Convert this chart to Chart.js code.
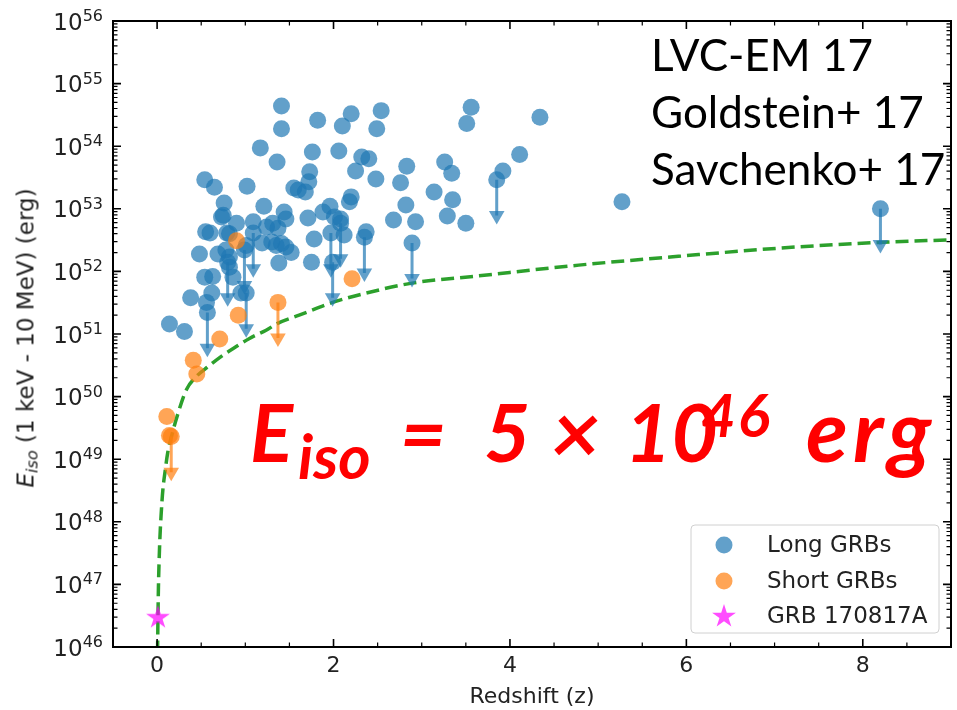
<!DOCTYPE html>
<html>
<head>
<meta charset="utf-8">
<script src="https://cdn.jsdelivr.net/npm/chart.js@4.4.0/dist/chart.umd.min.js"></script>
<style>
  html, body { margin: 0; padding: 0; background: #fff; }
  #wrap { position: relative; width: 957px; height: 710px; overflow: hidden; }
  #chart { position: absolute; left: 0; top: 0; }
  .ylabel {
    position: absolute; left: 27px; top: 338px;
    transform: translate(-50%, -50%) rotate(-90deg);
    font: 23px "DejaVu Sans"; color: #222; white-space: nowrap;
  }
  .ylabel sub { font-size: 70%; vertical-align: -0.25em; }
  .refs { position: absolute; left: 651px; top: 26px; font: 44px Lato; line-height: 57px; color: #000; white-space: nowrap; }
  .formula span { position: absolute; font-family: Lato; font-style: italic; font-weight: bold; color: #f00; line-height: 1; white-space: nowrap; }
</style>
</head>
<body>
<div id="wrap">
  <canvas id="chart" width="957" height="710"></canvas>
  <div class="ylabel"><i>E</i><sub><i>iso</i></sub> (1 keV - 10 MeV) (erg)</div>
  <div class="refs">LVC-EM 17<br>Goldstein+ 17<br>Savchenko+ 17</div>
  <div class="formula">
    <span style="left:250px; top:391px; font-size:80px;">E</span>
    <span style="left:298px; top:424px; font-size:62px;">iso</span>
    <span style="left:400px; top:391px; font-size:80px;">=</span>
    <span style="left:484px; top:391px; font-size:80px;">5</span>
    <span style="left:551px; top:388px; font-size:86px;">×</span>
    <span style="left:625px; top:391px; font-size:80px;">10</span>
    <span style="left:701px; top:384px; font-size:60px; letter-spacing:2px;">46</span>
    <span style="left:806px; top:386px; font-size:86px; letter-spacing:5px;">erg</span>
  </div>
</div>
<script>
// values: redshift z and isotropic energy (erg)
const longZ = [
  1.41, 1.41, 1.82, 2.20, 2.10, 2.54, 2.49, 3.56, 3.51, 4.34,
  1.17, 1.36, 1.76, 2.06, 2.32, 2.40, 2.25, 2.48, 2.83, 2.76,
  3.26, 3.34, 4.11, 3.92, 3.14, 3.35, 3.29, 3.50, 2.82, 2.93,
  2.68, 5.27, 0.54, 0.65, 1.02, 1.73, 1.72, 1.55, 1.60, 1.68,
  0.76, 1.21, 1.44, 1.46, 2.20, 2.18, 1.96, 1.88, 2.01, 2.08,
  1.71, 0.73, 0.90, 1.09, 1.24, 1.31, 1.37, 0.55, 0.60, 0.82,
  1.78, 2.12, 2.37, 0.69, 0.48, 0.82, 0.78, 1.01, 1.19, 1.35,
  1.46, 1.52, 1.38, 1.75, 0.54, 0.82, 0.86, 0.38, 0.56, 0.62,
  0.95, 0.14, 0.31, 0.75, 0.79, 1.30, 1.41, 0.63
];
const longE = [
  4.4e54, 1.9e54, 2.6e54, 3.3e54, 2.1e54, 3.7e54, 1.9e54, 4.2e54, 2.3e54, 2.9e54,
  9.4e53, 5.6e53, 8.1e53, 8.4e53, 6.7e53, 6.3e53, 4.0e53, 3.0e53, 4.8e53, 2.6e53,
  5.6e53, 3.7e53, 7.4e53, 4.0e53, 1.85e53, 1.4e53, 7.7e52, 5.9e52, 1.15e53, 6.2e52,
  6.6e52, 1.3e53, 2.9e53, 2.2e53, 2.3e53, 3.9e53, 2.7e53, 2.15e53, 2.0e53, 1.85e53,
  1.24e53, 1.1e53, 8.9e52, 6.9e52, 1.55e53, 1.3e53, 1.1e53, 8.9e52, 7.4e52, 6.9e52,
  7.1e52, 7.4e52, 5.9e52, 6.2e52, 5.1e52, 5.9e52, 4.9e52, 4.3e52, 4.1e52, 4.0e52,
  3.3e52, 3.8e52, 4.3e52, 1.9e52, 1.9e52, 1.7e52, 2.2e52, 2.6e52, 2.85e52, 2.6e52,
  2.45e52, 2.0e52, 1.36e52, 1.4e52, 8.1e51, 1.17e52, 8.1e51, 3.8e51, 3.2e51, 4.5e51,
  4.5e51, 1.45e51, 1.1e51, 7.9e52, 4.1e52, 2.95e52, 2.8e52, 8.3e51
];
// long GRBs that are upper limits (drawn with a down arrow)
const longLimZ = [0.57, 1.01, 0.80, 0.99, 1.09, 1.97, 1.99, 2.08, 2.35, 2.89, 3.85, 8.20];
const longLimE = [2.2e51, 4.5e51, 1.4e52, 2.2e52, 4.1e52, 4.1e52, 1.4e52, 5.9e52, 3.5e52, 2.85e52, 2.9e53, 1.0e53];

const shortZ = [0.90, 0.92, 0.71, 0.41, 0.45, 2.21, 0.11, 0.14];
const shortE = [3.1e52, 2.0e51, 8.3e50, 3.8e50, 2.3e50, 7.6e51, 4.8e49, 2.4e49];
const shortLimZ = [1.37, 0.16];
const shortLimE = [3.2e51, 2.3e49];

const grbZ = [0.0098];
const grbE = [3.0e46];

// dashed threshold curve
const curveZ = [
  0.005, 0.0098, 0.015, 0.022, 0.032, 0.045, 0.065, 0.09, 0.12, 0.163,
  0.237, 0.332, 0.445, 0.576, 0.728, 0.897, 1.047, 1.236, 1.367, 1.61,
  1.99, 2.37, 2.89, 3.65, 4.78, 5.91, 7.03, 8.17, 9.0
];
const curveE = [
  7.9e45, 3.0e46, 8.9e46, 2.2e47, 5.6e47, 1.26e48, 3.2e48, 6.3e48, 1.26e49, 2.3e49,
  5.4e49, 1.29e50, 2.1e50, 3.0e50, 4.4e50, 6.3e50, 8.5e50, 1.15e51, 1.48e51, 2.0e51,
  3.2e51, 4.5e51, 6.5e51, 8.5e51, 1.26e52, 1.74e52, 2.34e52, 2.9e52, 3.2e52
];

const xLabels = [0, 2, 4, 6, 8];
const yExps = [46, 47, 48, 49, 50, 51, 52, 53, 54, 55, 56];
const legendLabels = ['Long GRBs', 'Short GRBs', 'GRB 170817A'];

const BLUE = 'rgba(31, 119, 180, 0.7)';
const ORANGE = 'rgba(255, 127, 14, 0.7)';
const MAGENTA = 'rgba(255, 0, 255, 0.7)';
const GREEN = '#2ca02c';
const FONT = '"DejaVu Sans"';
const LIMIT_DROP = 0.27; // where the upper-limit arrowhead sits, as a fraction of the value

const pts = (zs, es) => zs.map((z, i) => ({ x: z, y: es[i] }));
const shafts = (zs, es) => zs.flatMap((z, i) => [
  { x: z, y: es[i] }, { x: z, y: es[i] * LIMIT_DROP }, { x: z, y: null },
]);
const heads = (zs, es) => zs.map((z, i) => ({ x: z, y: es[i] * LIMIT_DROP }));

// minor + major tick positions for the log axis
const yTickValues = [];
yExps.forEach((e, i) => {
  if (i === yExps.length - 1) { yTickValues.push(10 ** e); return; }
  for (let m = 1; m <= 9; m++) yTickValues.push(m * 10 ** e);
});

function starPath(ctx, cx, cy, r) {
  ctx.beginPath();
  for (let k = 0; k < 10; k++) {
    const rad = k % 2 === 0 ? r : r * 0.382;
    const ang = -Math.PI / 2 + k * Math.PI / 5;
    ctx.lineTo(cx + rad * Math.cos(ang), cy + rad * Math.sin(ang));
  }
  ctx.closePath();
}

const starImg = document.createElement('canvas');
starImg.width = 28; starImg.height = 28;
(() => {
  const c = starImg.getContext('2d');
  starPath(c, 14, 14.5, 12.5);
  c.fillStyle = MAGENTA;
  c.fill();
})();

const framePlugin = {
  id: 'frame',
  afterDraw(chart) {
    const { ctx, chartArea: a, scales: { x, y } } = chart;
    ctx.save();
    ctx.strokeStyle = '#000';

    // inward ticks on all four sides
    for (const t of x.ticks) {
      const px = x.getPixelForValue(t.value);
      const major = xLabels.includes(t.value);
      const len = major ? 8 : 4.5;
      ctx.lineWidth = major ? 1.6 : 1.2;
      ctx.beginPath();
      ctx.moveTo(px, a.bottom); ctx.lineTo(px, a.bottom - len);
      ctx.moveTo(px, a.top); ctx.lineTo(px, a.top + len);
      ctx.stroke();
    }
    for (const t of y.ticks) {
      const py = y.getPixelForValue(t.value);
      const lg = Math.log10(t.value);
      const major = Math.abs(lg - Math.round(lg)) < 1e-9;
      const len = major ? 8 : 4.5;
      ctx.lineWidth = major ? 1.6 : 1.2;
      ctx.beginPath();
      ctx.moveTo(a.left, py); ctx.lineTo(a.left + len, py);
      ctx.moveTo(a.right, py); ctx.lineTo(a.right - len, py);
      ctx.stroke();
    }

    ctx.lineWidth = 2;
    ctx.strokeRect(a.left, a.top, a.right - a.left, a.bottom - a.top);

    // y tick labels as 10^n
    ctx.fillStyle = '#222';
    ctx.textBaseline = 'alphabetic';
    ctx.textAlign = 'left';
    for (const e of yExps) {
      const py = y.getPixelForValue(10 ** e);
      ctx.font = `16px ${FONT}`;
      const exp = String(e);
      const w2 = ctx.measureText(exp).width;
      ctx.font = `23px ${FONT}`;
      const w1 = ctx.measureText('10').width;
      const right = a.left - 10;
      ctx.fillText('10', right - w2 - w1, py + 8.5);
      ctx.font = `16px ${FONT}`;
      ctx.fillText(exp, right - w2, py);
    }

    // legend, lower right
    const bw = 248, bh = 108;
    const bx = a.right - 12 - bw, by = a.bottom - 14 - bh;
    ctx.beginPath();
    ctx.roundRect(bx, by, bw, bh, 4);
    ctx.fillStyle = 'rgba(255,255,255,0.8)';
    ctx.fill();
    ctx.strokeStyle = '#d0d0d0';
    ctx.lineWidth = 1;
    ctx.stroke();

    const rowY = [by + 20, by + 56, by + 91];
    const mx = bx + 33;
    ctx.fillStyle = BLUE;
    ctx.beginPath(); ctx.arc(mx, rowY[0], 8.5, 0, Math.PI * 2); ctx.fill();
    ctx.fillStyle = ORANGE;
    ctx.beginPath(); ctx.arc(mx, rowY[1], 8.5, 0, Math.PI * 2); ctx.fill();
    starPath(ctx, mx, rowY[2] + 0.5, 12.5);
    ctx.fillStyle = MAGENTA; ctx.fill();

    ctx.fillStyle = '#222';
    ctx.font = `23px ${FONT}`;
    ctx.textBaseline = 'middle';
    legendLabels.forEach((lab, i) => ctx.fillText(lab, bx + 76, rowY[i] + 1));
    ctx.restore();
  },
};

new Chart(document.getElementById('chart'), {
  data: {
    datasets: [
      { type: 'scatter', label: legendLabels[2], data: pts(grbZ, grbE), pointStyle: starImg },
      { type: 'scatter', label: legendLabels[1], data: pts(shortZ, shortE).concat(pts(shortLimZ, shortLimE)),
        backgroundColor: ORANGE, borderWidth: 0, pointRadius: 8.5 },
      { type: 'scatter', label: legendLabels[0], data: pts(longZ, longE).concat(pts(longLimZ, longLimE)),
        backgroundColor: BLUE, borderWidth: 0, pointRadius: 8.5 },
      { type: 'scatter', label: 'short limits', data: heads(shortLimZ, shortLimE),
        pointStyle: 'triangle', rotation: 180, pointRadius: 9, backgroundColor: ORANGE, borderWidth: 0 },
      { type: 'line', label: 'short shafts', data: shafts(shortLimZ, shortLimE),
        borderColor: ORANGE, borderWidth: 3, pointRadius: 0, spanGaps: false, fill: false },
      { type: 'scatter', label: 'long limits', data: heads(longLimZ, longLimE),
        pointStyle: 'triangle', rotation: 180, pointRadius: 9, backgroundColor: BLUE, borderWidth: 0 },
      { type: 'line', label: 'long shafts', data: shafts(longLimZ, longLimE),
        borderColor: BLUE, borderWidth: 3, pointRadius: 0, spanGaps: false, fill: false },
      { type: 'line', label: 'threshold', data: pts(curveZ, curveE),
        borderColor: GREEN, borderWidth: 3.5, borderDash: [13, 6], pointRadius: 0, fill: false,
        cubicInterpolationMode: 'monotone' },
    ],
  },
  options: {
    responsive: false,
    animation: false,
    events: [],
    layout: { autoPadding: false, padding: { left: 0, right: 2, top: 21, bottom: 0 } },
    plugins: { legend: { display: false }, tooltip: { enabled: false } },
    scales: {
      x: {
        type: 'linear', min: -0.5, max: 9,
        grid: { display: false, drawTicks: false },
        border: { display: false },
        ticks: {
          stepSize: 0.5, autoSkip: false, maxRotation: 0, padding: 6,
          color: '#222', font: { family: 'DejaVu Sans', size: 22 },
          callback: (v) => (xLabels.includes(v) ? String(v) : ''),
        },
        title: {
          display: true, text: 'Redshift (z)', color: '#222',
          font: { family: 'DejaVu Sans', size: 22 }, padding: { top: 0, bottom: 0 },
        },
        afterFit: (s) => { s.height = 63; },
      },
      y: {
        type: 'logarithmic', min: 1e46, max: 1e56,
        grid: { display: false, drawTicks: false },
        border: { display: false },
        ticks: { display: false },
        afterBuildTicks: (s) => { s.ticks = yTickValues.map((v) => ({ value: v })); },
        afterFit: (s) => { s.width = 113; },
      },
    },
  },
  plugins: [framePlugin],
});
</script>
</body>
</html>
